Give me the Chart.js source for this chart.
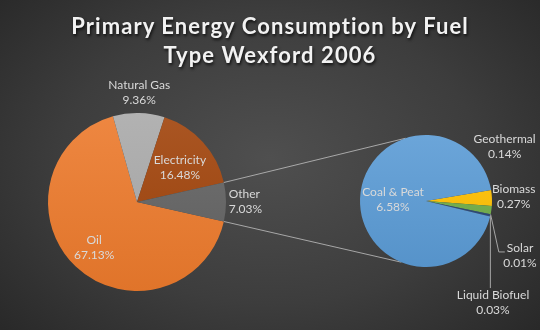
<!DOCTYPE html>
<html>
<head>
<meta charset="utf-8">
<script src="https://cdn.jsdelivr.net/npm/chart.js@4"></script>
<style>
  html, body { margin: 0; padding: 0; background: #262626; }
  #wrap {
    position: relative; width: 540px; height: 330px; overflow: hidden;
    background: radial-gradient(ellipse 70% 80% at 50% 48%, #4f4f4f 0%, #3d3d3d 55%, #272727 100%);
  }
  #wrap canvas { position: absolute; left: 0; top: 0; }
  #title {
    position: absolute; left: 0; top: 11px; width: 540px; text-align: center;
    color: #f2f2f2; font: bold 22px Lato, sans-serif; line-height: 29px; letter-spacing: 1.1px;
    text-shadow: 1px 2px 3px rgba(0, 0, 0, 0.75);
  }
</style>
</head>
<body>
<div id="wrap">
  <canvas id="mainPie" width="540" height="330"></canvas>
  <canvas id="otherPie" width="540" height="330"></canvas>
  <div id="title">Primary Energy Consumption by Fuel<br>Type Wexford 2006</div>
</div>
<script>
// shares of primary energy, percent of total
var mainLabels = ['Oil', 'Natural Gas', 'Electricity', 'Other'];
var mainValues = [67.13, 9.36, 16.48, 7.03];

// breakdown of "Other", same percent basis
var otherLabels = ['Biomass', 'Geothermal', 'Solar', 'Liquid Biofuel', 'Coal & Peat'];
var otherValues = [0.27, 0.14, 0.01, 0.03, 6.58];

var mainColors = ['#EC7A2C', '#A9A9A9', '#A0430A', '#626262'];
var otherColors = ['#FFC000', '#70AD47', '#255E91', '#264478', '#5B9BD5'];

var labelFont = '12px Lato, sans-serif';
var labelColor = '#d9d9d9';

/**
 * Colour helpers
 */

var shade = function(hex, amt) {
    var n = parseInt(hex.slice(1), 16);
    var rgb = [(n >> 16) & 255, (n >> 8) & 255, n & 255];
    var out = rgb.map(function(c) {
        return Math.round(amt > 0 ? c + (255 - c) * amt : c * (1 + amt));
    });
    return 'rgb(' + out.join(',') + ')';
};

// light-at-top gradient across the whole pie
var sliceFill = function(colors) {
    return function(context) {
        var chart = context.chart;
        var area = chart.chartArea;
        var c = colors[context.dataIndex];
        if (!area) return c;
        var g = chart.ctx.createLinearGradient(0, area.top, 0, area.bottom);
        g.addColorStop(0, shade(c, 0.10));
        g.addColorStop(1, shade(c, -0.05));
        return g;
    };
};

/**
 * Data labels: name + percent, placed along the slice angle
 */

var sliceLabels = function(specs) {
    return {
        id: 'sliceLabels',
        afterDatasetsDraw: function(chart) {
            var ctx = chart.ctx;
            var arcs = chart.getDatasetMeta(0).data;
            ctx.save();
            ctx.font = labelFont;
            ctx.fillStyle = labelColor;
            ctx.strokeStyle = '#a6a6a6';
            ctx.lineWidth = 1;
            ctx.textBaseline = 'middle';
            for (var i = 0; i < arcs.length; i++) {
                var arc = arcs[i];
                var spec = specs[i];
                var mid = (arc.startAngle + arc.endAngle) / 2;
                var deg = spec.angle != null ? spec.angle : (mid + Math.PI / 2) * 180 / Math.PI;
                var rad = deg * Math.PI / 180;
                var r = arc.outerRadius * spec.dist;
                var x = arc.x + r * Math.sin(rad);
                var y = arc.y - r * Math.cos(rad);
                var name = chart.data.labels[i];
                var value = chart.data.datasets[0].data[i].toFixed(2) + '%';
                ctx.textAlign = spec.align || 'center';
                ctx.fillText(name, x, y - 7.5);
                ctx.fillText(value, x, y + 7.5);

                if (spec.leader) {
                    var ex = arc.x + arc.outerRadius * Math.cos(mid);
                    var ey = arc.y + arc.outerRadius * Math.sin(mid);
                    ctx.beginPath();
                    ctx.moveTo(ex, ey);
                    if (spec.leader == 'elbow') {
                        var lx = x - ctx.measureText(name).width / 2;
                        ctx.lineTo(lx - 8, y - 4);
                        ctx.lineTo(lx - 2, y - 4);
                    } else {
                        ctx.lineTo(ex, y - 15);
                    }
                    ctx.stroke();
                }
            }
            ctx.restore();
        }
    };
};

/**
 * Main pie, "Other" slice centred on the right
 */

var otherShare = mainValues[3] / mainValues.reduce(function(a, b) { return a + b; }, 0);
var mainRotation = 90 - 360 + otherShare * 180;

var mainChart = new Chart(document.getElementById('mainPie'), {
    type: 'pie',
    data: {
        labels: mainLabels,
        datasets: [{
            data: mainValues,
            backgroundColor: sliceFill(mainColors),
            borderWidth: 0
        }]
    },
    options: {
        responsive: false,
        animation: false,
        devicePixelRatio: 1,
        rotation: mainRotation,
        layout: { padding: { left: 48, right: 314, top: 113, bottom: 39 } },
        plugins: { legend: { display: false }, tooltip: { enabled: false } }
    },
    plugins: [sliceLabels([
        { dist: 0.70 },
        { dist: 1.23 },
        { dist: 0.62, angle: 51 },
        { dist: 1.03, angle: 90, align: 'left' }
    ])]
});

/**
 * Lines joining the "Other" slice to the breakdown pie
 */

var connectors = {
    id: 'connectors',
    beforeDatasetsDraw: function(chart) {
        var other = mainChart.getDatasetMeta(0).data[3];
        var pie = chart.getDatasetMeta(0).data[0];
        var ends = [342, 202];
        var starts = [other.startAngle, other.endAngle];
        var ctx = chart.ctx;
        ctx.save();
        ctx.strokeStyle = 'rgba(200,200,200,0.75)';
        ctx.lineWidth = 1;
        for (var i = 0; i < 2; i++) {
            var a = ends[i] * Math.PI / 180;
            ctx.beginPath();
            ctx.moveTo(other.x + other.outerRadius * Math.cos(starts[i]), other.y + other.outerRadius * Math.sin(starts[i]));
            ctx.lineTo(pie.x + pie.outerRadius * Math.sin(a), pie.y - pie.outerRadius * Math.cos(a));
            ctx.stroke();
        }
        ctx.restore();
    }
};

var otherChart = new Chart(document.getElementById('otherPie'), {
    type: 'pie',
    data: {
        labels: otherLabels,
        datasets: [{
            data: otherValues,
            backgroundColor: sliceFill(otherColors),
            borderWidth: 0
        }]
    },
    options: {
        responsive: false,
        animation: false,
        devicePixelRatio: 1,
        rotation: 80.5,
        layout: { padding: { left: 360, right: 48, top: 135, bottom: 63 } },
        plugins: { legend: { display: false }, tooltip: { enabled: false } }
    },
    plugins: [connectors, sliceLabels([
        { dist: 1.33, angle: 87.4 },
        { dist: 1.45, angle: 55.2 },
        { dist: 1.65, angle: 120.3, leader: 'elbow' },
        { dist: 1.85, angle: 146.7, leader: 'vertical' },
        { dist: 0.50 }
    ])]
});
</script>
</body>
</html>
